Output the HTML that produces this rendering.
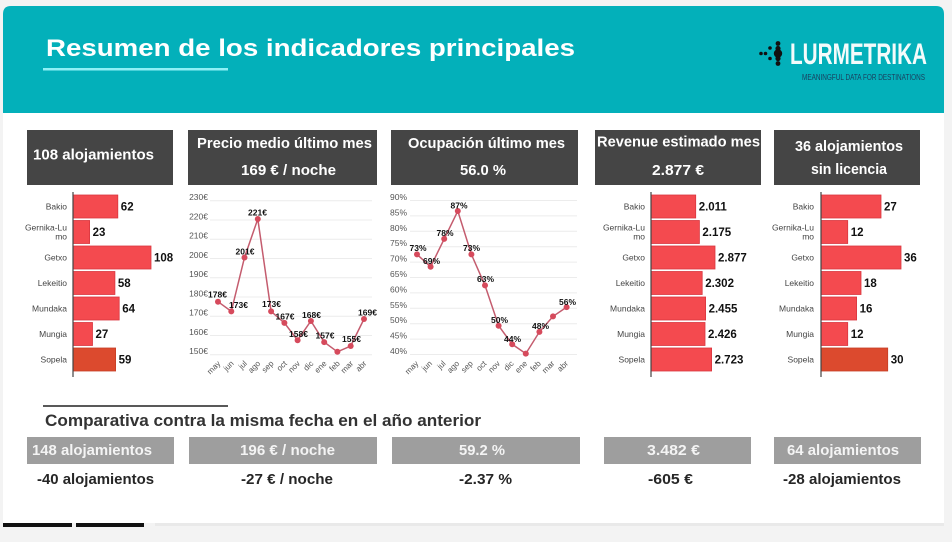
<!DOCTYPE html>
<html><head><meta charset="utf-8"><style>
html,body{margin:0;padding:0;background:#f3f3f3;}
svg{display:block;font-family:"Liberation Sans",Arial,sans-serif;}
</style></head><body>
<svg width="952" height="542" viewBox="0 0 952 542" xmlns="http://www.w3.org/2000/svg">
<rect width="952" height="542" fill="#f3f3f3"/>
<rect x="3" y="113" width="941" height="410" fill="#ffffff"/>
<path d="M3,113 V14 Q3,6 11,6 H936 Q944,6 944,14 V113 Z" fill="#03b0ba"/>
<text x="46" y="56" font-size="24" font-weight="bold" fill="#ffffff" textLength="529" lengthAdjust="spacingAndGlyphs">Resumen de los indicadores principales</text>
<rect x="43" y="68" width="185" height="2.5" fill="#8ff0f5"/>
<!-- logo -->
<g fill="#111">
<circle cx="761" cy="53.5" r="1.8"/><circle cx="765.5" cy="53.5" r="1.8"/>
<circle cx="770" cy="48" r="1.8"/><circle cx="770" cy="58.5" r="1.8"/>
<circle cx="778" cy="43.5" r="2.4"/><circle cx="778" cy="48.5" r="2.6"/><circle cx="778" cy="53.5" r="4.2"/><circle cx="778" cy="58.5" r="2.6"/><circle cx="778" cy="63.5" r="2.4"/>
</g>
<text x="790" y="64" font-size="30" font-weight="bold" fill="#f4fbfb" textLength="137" lengthAdjust="spacingAndGlyphs">LURMETRIKA</text>
<text x="802" y="80" font-size="8" fill="#1a3d5c" textLength="123" lengthAdjust="spacingAndGlyphs">MEANINGFUL DATA FOR DESTINATIONS</text>

<!-- header boxes -->
<g fill="#454545">
<rect x="27" y="130" width="146" height="55"/>
<rect x="188" y="130" width="189" height="55"/>
<rect x="391" y="130" width="187" height="55"/>
<rect x="595" y="130" width="166" height="55"/>
<rect x="774" y="130" width="146" height="55"/>
</g>
<g fill="#ffffff" font-weight="bold" font-size="15">
<text x="33" y="159.5" textLength="121" lengthAdjust="spacingAndGlyphs">108 alojamientos</text>
<text x="284.5" y="148" text-anchor="middle" textLength="175" lengthAdjust="spacingAndGlyphs">Precio medio último mes</text>
<text x="288.5" y="175" text-anchor="middle" textLength="95" lengthAdjust="spacingAndGlyphs">169 € / noche</text>
<text x="486.5" y="148" text-anchor="middle" textLength="157" lengthAdjust="spacingAndGlyphs">Ocupación último mes</text>
<text x="483" y="175" text-anchor="middle" textLength="46" lengthAdjust="spacingAndGlyphs">56.0 %</text>
<text x="678.5" y="146.5" text-anchor="middle" textLength="163" lengthAdjust="spacingAndGlyphs">Revenue estimado mes</text>
<text x="678" y="175" text-anchor="middle" textLength="52" lengthAdjust="spacingAndGlyphs">2.877 €</text>
<text x="849" y="151" text-anchor="middle" textLength="108" lengthAdjust="spacingAndGlyphs">36 alojamientos</text>
<text x="849" y="174" text-anchor="middle" textLength="76" lengthAdjust="spacingAndGlyphs">sin licencia</text>
</g>

<!-- bar chart 1 -->
<g stroke="#d9363f" stroke-width="0.8" fill="#f44a4f">
<rect x="73" y="195" width="44.8" height="23"/>
<rect x="73" y="220.5" width="16.6" height="23"/>
<rect x="73" y="246" width="78" height="23"/>
<rect x="73" y="271.5" width="41.9" height="23"/>
<rect x="73" y="297" width="46.2" height="23"/>
<rect x="73" y="322.5" width="19.5" height="23"/>
<rect x="73" y="348" width="42.6" height="23" fill="#dc4a2e" stroke="#c63e25"/>
</g>
<line x1="73" y1="192" x2="73" y2="377" stroke="#444" stroke-width="1.2"/>
<g font-size="8.5" fill="#444" text-anchor="end">
<text x="67" y="209.5">Bakio</text>
<text x="67" y="230.5">Gernika-Lu</text><text x="67" y="239.5">mo</text>
<text x="67" y="260.5">Getxo</text>
<text x="67" y="286">Lekeitio</text>
<text x="67" y="311.5">Mundaka</text>
<text x="67" y="337">Mungia</text>
<text x="67" y="362.5">Sopela</text>
</g>
<g font-size="11.5" font-weight="bold" fill="#111">
<text x="120.8" y="210.5">62</text>
<text x="92.6" y="236">23</text>
<text x="154" y="261.5">108</text>
<text x="117.9" y="287">58</text>
<text x="122.2" y="312.5">64</text>
<text x="95.5" y="338">27</text>
<text x="118.6" y="363.5">59</text>
</g>

<!-- bar chart 4 revenue -->
<g stroke="#d9363f" stroke-width="0.8" fill="#f44a4f">
<rect x="651" y="195" width="44.7" height="23"/>
<rect x="651" y="220.5" width="48.4" height="23"/>
<rect x="651" y="246" width="64" height="23"/>
<rect x="651" y="271.5" width="51.2" height="23"/>
<rect x="651" y="297" width="54.6" height="23"/>
<rect x="651" y="322.5" width="54" height="23"/>
<rect x="651" y="348" width="60.6" height="23"/>
</g>
<line x1="651" y1="192" x2="651" y2="377" stroke="#444" stroke-width="1.2"/>
<g font-size="8.5" fill="#444" text-anchor="end">
<text x="645" y="209.5">Bakio</text>
<text x="645" y="230.5">Gernika-Lu</text><text x="645" y="239.5">mo</text>
<text x="645" y="260.5">Getxo</text>
<text x="645" y="286">Lekeitio</text>
<text x="645" y="311.5">Mundaka</text>
<text x="645" y="337">Mungia</text>
<text x="645" y="362.5">Sopela</text>
</g>
<g font-size="11.5" font-weight="bold" fill="#111">
<text x="698.7" y="210.5">2.011</text>
<text x="702.4" y="236">2.175</text>
<text x="718" y="261.5">2.877</text>
<text x="705.2" y="287">2.302</text>
<text x="708.6" y="312.5">2.455</text>
<text x="708" y="338">2.426</text>
<text x="714.6" y="363.5">2.723</text>
</g>

<!-- bar chart 5 -->
<g stroke="#d9363f" stroke-width="0.8" fill="#f44a4f">
<rect x="821" y="195" width="60" height="23"/>
<rect x="821" y="220.5" width="26.7" height="23"/>
<rect x="821" y="246" width="80" height="23"/>
<rect x="821" y="271.5" width="40" height="23"/>
<rect x="821" y="297" width="35.6" height="23"/>
<rect x="821" y="322.5" width="26.7" height="23"/>
<rect x="821" y="348" width="66.7" height="23" fill="#dc4a2e" stroke="#c63e25"/>
</g>
<line x1="821" y1="192" x2="821" y2="377" stroke="#444" stroke-width="1.2"/>
<g font-size="8.5" fill="#444" text-anchor="end">
<text x="814" y="209.5">Bakio</text>
<text x="814" y="230.5">Gernika-Lu</text><text x="814" y="239.5">mo</text>
<text x="814" y="260.5">Getxo</text>
<text x="814" y="286">Lekeitio</text>
<text x="814" y="311.5">Mundaka</text>
<text x="814" y="337">Mungia</text>
<text x="814" y="362.5">Sopela</text>
</g>
<g font-size="11.5" font-weight="bold" fill="#111">
<text x="884" y="210.5">27</text>
<text x="850.7" y="236">12</text>
<text x="904" y="261.5">36</text>
<text x="864" y="287">18</text>
<text x="859.6" y="312.5">16</text>
<text x="850.7" y="338">12</text>
<text x="890.7" y="363.5">30</text>
</g>

<!-- price line chart -->
<g stroke="#ececec" stroke-width="1">
<line x1="210" x2="372" y1="200.7" y2="200.7"/><line x1="210" x2="372" y1="219.95" y2="219.95"/>
<line x1="210" x2="372" y1="239.2" y2="239.2"/><line x1="210" x2="372" y1="258.45" y2="258.45"/>
<line x1="210" x2="372" y1="277.7" y2="277.7"/><line x1="210" x2="372" y1="296.95" y2="296.95"/>
<line x1="210" x2="372" y1="316.2" y2="316.2"/><line x1="210" x2="372" y1="335.45" y2="335.45"/>
<line x1="210" x2="372" y1="354.7" y2="354.7"/>
</g>
<g font-size="8.5" fill="#555" text-anchor="end">
<text x="208" y="200.2">230€</text><text x="208" y="219.45">220€</text><text x="208" y="238.7">210€</text>
<text x="208" y="257.95">200€</text><text x="208" y="277.2">190€</text><text x="208" y="296.45">180€</text>
<text x="208" y="315.7">170€</text><text x="208" y="334.95">160€</text><text x="208" y="354.2">150€</text>
</g>
<polyline fill="none" stroke="#c45c6e" stroke-width="1.5" points="218,301.7 231.3,311.4 244.5,257.5 257.8,219 271.1,311.4 284.4,322.9 297.6,340.2 310.9,321 324.2,342.1 337.4,351.8 350.7,346 364,319"/>
<g fill="#d64a5c">
<circle cx="218" cy="301.7" r="3"/><circle cx="231.3" cy="311.4" r="3"/><circle cx="244.5" cy="257.5" r="3"/>
<circle cx="257.8" cy="219" r="3"/><circle cx="271.1" cy="311.4" r="3"/><circle cx="284.4" cy="322.9" r="3"/>
<circle cx="297.6" cy="340.2" r="3"/><circle cx="310.9" cy="321" r="3"/><circle cx="324.2" cy="342.1" r="3"/>
<circle cx="337.4" cy="351.8" r="3"/><circle cx="350.7" cy="346" r="3"/><circle cx="364" cy="319" r="3"/>
</g>
<g font-size="8.5" font-weight="bold" fill="#111" text-anchor="middle">
<text x="217.5" y="297.5">178€</text><text x="238.5" y="308">173€</text><text x="245" y="254.5">201€</text>
<text x="257.5" y="215.5">221€</text><text x="271.5" y="307">173€</text><text x="285" y="319.5">167€</text>
<text x="298.5" y="337">158€</text><text x="311.5" y="318">168€</text><text x="325" y="338.5">157€</text>
<text x="351.5" y="342">155€</text><text x="367.5" y="315.5">169€</text>
</g>
<g font-size="8" fill="#555" text-anchor="end">
<text transform="translate(221,364) rotate(-45)">may</text>
<text transform="translate(234.3,364) rotate(-45)">jun</text>
<text transform="translate(247.5,364) rotate(-45)">jul</text>
<text transform="translate(260.8,364) rotate(-45)">ago</text>
<text transform="translate(274.1,364) rotate(-45)">sep</text>
<text transform="translate(287.4,364) rotate(-45)">oct</text>
<text transform="translate(300.6,364) rotate(-45)">nov</text>
<text transform="translate(313.9,364) rotate(-45)">dic</text>
<text transform="translate(327.2,364) rotate(-45)">ene</text>
<text transform="translate(340.4,364) rotate(-45)">feb</text>
<text transform="translate(353.7,364) rotate(-45)">mar</text>
<text transform="translate(367,364) rotate(-45)">abr</text>
</g>

<!-- occupancy line chart -->
<g stroke="#ececec" stroke-width="1">
<line x1="410" x2="577" y1="200.5" y2="200.5"/><line x1="410" x2="577" y1="215.9" y2="215.9"/>
<line x1="410" x2="577" y1="231.3" y2="231.3"/><line x1="410" x2="577" y1="246.7" y2="246.7"/>
<line x1="410" x2="577" y1="262.1" y2="262.1"/><line x1="410" x2="577" y1="277.5" y2="277.5"/>
<line x1="410" x2="577" y1="292.9" y2="292.9"/><line x1="410" x2="577" y1="308.3" y2="308.3"/>
<line x1="410" x2="577" y1="323.7" y2="323.7"/><line x1="410" x2="577" y1="339.1" y2="339.1"/>
<line x1="410" x2="577" y1="354.5" y2="354.5"/>
</g>
<g font-size="8.5" fill="#555" text-anchor="end">
<text x="407" y="200">90%</text><text x="407" y="215.4">85%</text><text x="407" y="230.8">80%</text>
<text x="407" y="246.2">75%</text><text x="407" y="261.6">70%</text><text x="407" y="277">65%</text>
<text x="407" y="292.4">60%</text><text x="407" y="307.8">55%</text><text x="407" y="323.2">50%</text>
<text x="407" y="338.6">45%</text><text x="407" y="354">40%</text>
</g>
<polyline fill="none" stroke="#c45c6e" stroke-width="1.5" points="417,254.4 430.6,266.8 444.2,238.9 457.8,211 471.4,254.4 485,285.4 498.6,325.7 512.2,344.3 525.8,353.6 539.4,331.9 553,316.4 566.6,307.1"/>
<g fill="#d64a5c">
<circle cx="417" cy="254.4" r="3"/><circle cx="430.6" cy="266.8" r="3"/><circle cx="444.2" cy="238.9" r="3"/>
<circle cx="457.8" cy="211" r="3"/><circle cx="471.4" cy="254.4" r="3"/><circle cx="485" cy="285.4" r="3"/>
<circle cx="498.6" cy="325.7" r="3"/><circle cx="512.2" cy="344.3" r="3"/><circle cx="525.8" cy="353.6" r="3"/>
<circle cx="539.4" cy="331.9" r="3"/><circle cx="553" cy="316.4" r="3"/><circle cx="566.6" cy="307.1" r="3"/>
</g>
<g font-size="8.5" font-weight="bold" fill="#111" text-anchor="middle">
<text x="418" y="251">73%</text><text x="431.5" y="264">69%</text><text x="445" y="236">78%</text>
<text x="459" y="208.5">87%</text><text x="471.5" y="251">73%</text><text x="485.5" y="282">63%</text>
<text x="499.5" y="323">50%</text><text x="512.5" y="342">44%</text><text x="540.5" y="329">48%</text>
<text x="567.5" y="305">56%</text>
</g>
<g font-size="8" fill="#555" text-anchor="end">
<text transform="translate(419,364) rotate(-45)">may</text>
<text transform="translate(432.6,364) rotate(-45)">jun</text>
<text transform="translate(446.2,364) rotate(-45)">jul</text>
<text transform="translate(459.8,364) rotate(-45)">ago</text>
<text transform="translate(473.4,364) rotate(-45)">sep</text>
<text transform="translate(487,364) rotate(-45)">oct</text>
<text transform="translate(500.6,364) rotate(-45)">nov</text>
<text transform="translate(514.2,364) rotate(-45)">dic</text>
<text transform="translate(527.8,364) rotate(-45)">ene</text>
<text transform="translate(541.4,364) rotate(-45)">feb</text>
<text transform="translate(555,364) rotate(-45)">mar</text>
<text transform="translate(568.6,364) rotate(-45)">abr</text>
</g>

<!-- comparativa -->
<line x1="43" y1="406" x2="228" y2="406" stroke="#222" stroke-width="1.5"/>
<text x="45" y="426" font-size="17" font-weight="bold" fill="#333" textLength="436" lengthAdjust="spacingAndGlyphs">Comparativa contra la misma fecha en el año anterior</text>
<g fill="#9e9e9e">
<rect x="27" y="437" width="147" height="27"/>
<rect x="189" y="437" width="188" height="27"/>
<rect x="392" y="437" width="188" height="27"/>
<rect x="604" y="437" width="147" height="27"/>
<rect x="774" y="437" width="147" height="27"/>
</g>
<g font-size="15" font-weight="bold" fill="#f4f4f4">
<text x="32" y="455" textLength="120" lengthAdjust="spacingAndGlyphs">148 alojamientos</text>
<text x="287.5" y="455" text-anchor="middle" textLength="95" lengthAdjust="spacingAndGlyphs">196 € / noche</text>
<text x="482" y="455" text-anchor="middle" textLength="46" lengthAdjust="spacingAndGlyphs">59.2 %</text>
<text x="673.5" y="455" text-anchor="middle" textLength="53" lengthAdjust="spacingAndGlyphs">3.482 €</text>
<text x="843" y="455" text-anchor="middle" textLength="112" lengthAdjust="spacingAndGlyphs">64 alojamientos</text>
</g>
<g font-size="15" font-weight="bold" fill="#262626">
<text x="37" y="484" textLength="117" lengthAdjust="spacingAndGlyphs">-40 alojamientos</text>
<text x="287" y="484" text-anchor="middle" textLength="92" lengthAdjust="spacingAndGlyphs">-27 € / noche</text>
<text x="485.5" y="484" text-anchor="middle" textLength="53" lengthAdjust="spacingAndGlyphs">-2.37 %</text>
<text x="670.5" y="484" text-anchor="middle" textLength="45" lengthAdjust="spacingAndGlyphs">-605 €</text>
<text x="842" y="484" text-anchor="middle" textLength="118" lengthAdjust="spacingAndGlyphs">-28 alojamientos</text>
</g>

<!-- bottom -->
<rect x="3" y="523" width="69" height="4" fill="#111"/>
<rect x="76" y="523" width="68" height="4" fill="#111"/>
<rect x="155" y="523" width="789" height="3" fill="#e9e9e9"/>
</svg>
</body></html>
